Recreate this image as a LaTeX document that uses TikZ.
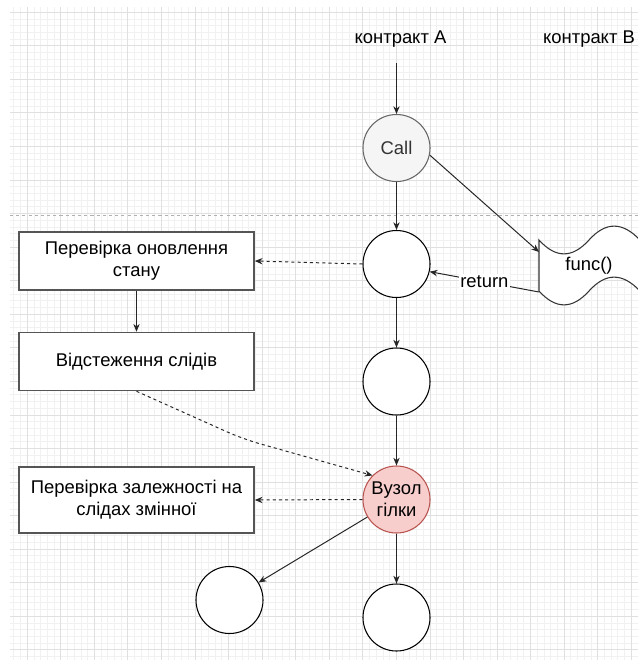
\documentclass[tikz,border=0pt]{standalone}
\usepackage{fontspec}
\setmainfont{Liberation Sans}
\usetikzlibrary{arrows.meta}
\definecolor{gridminor}{HTML}{F1F1F1}
\definecolor{gridmajor}{HTML}{E0E0E0}
\definecolor{sepgray}{HTML}{B0B0B0}
\definecolor{callfill}{HTML}{F5F5F5}
\definecolor{callstroke}{HTML}{666666}
\definecolor{calltext}{HTML}{333333}
\definecolor{redfill}{HTML}{F8CECC}
\definecolor{redstroke}{HTML}{B85450}
\definecolor{boxstroke}{HTML}{555555}
\begin{document}
\begin{tikzpicture}[x=0.025cm,y=-0.025cm,
  every node/.style={font=\fontsize{13.1}{15.5}\selectfont, inner sep=0pt, align=center},
  stcircle/.style={circle, draw=black, line width=0.75pt, fill=white, minimum size=1.675cm},
  callcircle/.style={stcircle, draw=callstroke, fill=callfill, text=calltext},
  redcircle/.style={stcircle, draw=redstroke, fill=redfill},
  procbox/.style={rectangle, draw=boxstroke, line width=1.1pt, fill=white, minimum width=5.875cm, minimum height=1.45cm},
  arr/.style={-{Stealth[length=5.5pt,width=4.5pt]}, line width=0.7pt, draw=black!85},
  darr/.style={arr, dash pattern=on 2.2pt off 2.2pt},
  funcshape/.style={draw=black!80, line width=0.75pt, fill=white},
  lbl/.style={fill=white, inner sep=1pt}
]
\useasboundingbox (0,0) rectangle (638,660);
\fill[white] (0,0) rectangle (638,660);
% grid
\begin{scope}
\clip (10,7) rectangle (638,660);
\foreach \k in {-3,...,92} \draw[gridminor, line width=0.7pt] ({27.3+\k*6.712},7) -- ++(0,660);
\foreach \k in {-1,...,97} \draw[gridminor, line width=0.7pt] (10,{12.3+\k*6.712}) -- ++(640,0);
\foreach \k in {0,...,18} \draw[gridmajor, line width=0.7pt] ({27.3+\k*33.56},7) -- ++(0,660);
\foreach \k in {0,...,19} \draw[gridmajor, line width=0.7pt] (10,{12.3+\k*33.56}) -- ++(640,0);
\end{scope}
% separator
\draw[sepgray, line width=0.7pt, dash pattern=on 2.2pt off 2.2pt] (10,215) -- (638,215);

% labels
\node (labA) at (400.5,39) {контракт А};
\node (labB) at (589,39) {контракт В};

% circles
\node[callcircle] (call) at (396.5,148) {Call};
\node[stcircle] (c2) at (396.5,264) {};
\node[stcircle] (c3) at (396.5,381.5) {};
\node[redcircle] (vuzol) at (396.5,499.5) {Вузол\\гілки};
\node[stcircle] (cl) at (229.5,600) {};
\node[stcircle] (cb) at (396.5,617.5) {};

% boxes
\node[procbox] (box1) at (136.5,261) {Перевірка оновлення\\стану};
\node[procbox] (box2) at (136.5,361.5) {Відстеження слідів};
\node[procbox, minimum height=1.65cm] (box3) at (136.5,500) {Перевірка залежності на\\слідах змінної};

% func tape shape
\draw[funcshape] (539,240) .. controls (555.7,258.5) and (572.3,258.5) .. (589,240)
  .. controls (605.7,221.5) and (622.3,221.5) .. (640,240) -- (640,291)
  .. controls (622.3,272.5) and (605.7,272.5) .. (589,291)
  .. controls (572.3,309.5) and (555.7,309.5) .. (539,291) -- cycle;
\node (func) at (589,265.5) {func()};
\coordinate (fin) at (539,252);
\coordinate (fout) at (539,292);
\coordinate (top) at (396.5,63);
\coordinate (bend) at (243,439);

% connectors
\draw[arr] (top) -- (call);
\draw[arr] (call) -- (c2);
\draw[arr] (call.-12) -- (fin);
\draw[arr] (fout) -- node[lbl] {return} (c2.-13);
\draw[arr] (c2) -- (c3);
\draw[arr] (c3) -- (vuzol);
\draw[arr] (vuzol) -- (cb);
\draw[arr] (vuzol) -- (cl);
\draw[arr] (box1) -- (box2);
\draw[darr] (c2.west) -- (box1.east);
\draw[darr] (vuzol.west) -- (box3.east);
\draw[darr, rounded corners=12pt] (box2.south) -- (bend) -- (vuzol.135);
\end{tikzpicture}
\end{document}
